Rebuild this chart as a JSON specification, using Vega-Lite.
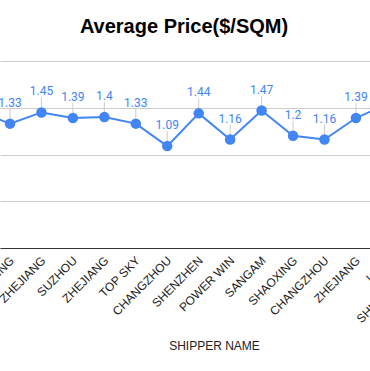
{
  "$schema": "https://vega.github.io/schema/vega-lite/v6.json",
  "width": 370,
  "height": 187,
  "autosize": {"type": "none"},
  "padding": {"top": 61, "bottom": 123, "left": 0, "right": 0},
  "background": "white",
  "config": {"view": {"stroke": null}},
  "title": {
    "text": "Average Price($/SQM)",
    "font": "Liberation Sans",
    "fontSize": 20,
    "fontWeight": "bold",
    "color": "#000000",
    "anchor": "middle",
    "frame": "group",
    "baseline": "alphabetic",
    "offset": 8,
    "dx": -1
  },
  "data": {
    "values": [
      {"i": 0, "name": "WUXI", "price": 1.46},
      {"i": 1, "name": "NANJING", "price": 1.33},
      {"i": 2, "name": "ZHEJIANG", "price": 1.45},
      {"i": 3, "name": "SUZHOU", "price": 1.39},
      {"i": 4, "name": "ZHEJIANG", "price": 1.4},
      {"i": 5, "name": "TOP SKY", "price": 1.33},
      {"i": 6, "name": "CHANGZHOU", "price": 1.09},
      {"i": 7, "name": "SHENZHEN", "price": 1.44},
      {"i": 8, "name": "POWER WIN", "price": 1.16},
      {"i": 9, "name": "SANGAM", "price": 1.47},
      {"i": 10, "name": "SHAOXING", "price": 1.2},
      {"i": 11, "name": "CHANGZHOU", "price": 1.16},
      {"i": 12, "name": "ZHEJIANG", "price": 1.39},
      {"i": 13, "name": "LINYI", "price": 1.54},
      {"i": 14, "name": "SHIJIAZHUANG", "price": 1.35}
    ]
  },
  "encoding": {
    "x": {
      "field": "i",
      "type": "quantitative",
      "scale": {"domain": [0.682, 12.447], "nice": false, "zero": false},
      "axis": {
        "labels": false,
        "ticks": false,
        "grid": false,
        "domainColor": "#333333",
        "domainWidth": 1,
        "title": "SHIPPER NAME",
        "titleFont": "Liberation Sans",
        "titleFontSize": 12,
        "titleFontWeight": "normal",
        "titleColor": "#222222",
        "titleX": 214,
        "titleY": 101,
        "titleBaseline": "alphabetic",
        "titleAnchor": "middle"
      }
    }
  },
  "layer": [
    {
      "mark": {"type": "line", "color": "#4285F4", "strokeWidth": 2, "clip": true},
      "encoding": {
        "y": {
          "field": "price",
          "type": "quantitative",
          "scale": {"domain": [0, 2], "nice": false},
          "axis": {
            "values": [0, 0.5, 1, 1.5, 2],
            "labels": false,
            "ticks": false,
            "domain": false,
            "title": null,
            "grid": true,
            "gridColor": "#cccccc",
            "gridWidth": 1
          }
        }
      }
    },
    {
      "mark": {"type": "rule", "color": "#cccccc", "strokeWidth": 1, "yOffset": -15, "y2Offset": -5, "clip": true},
      "encoding": {
        "y": {"field": "price", "type": "quantitative"},
        "y2": {"field": "price"}
      }
    },
    {
      "mark": {"type": "point", "filled": true, "opacity": 1, "size": 110, "color": "#4285F4", "clip": true},
      "encoding": {
        "y": {"field": "price", "type": "quantitative"}
      }
    },
    {
      "mark": {"type": "text", "font": "Roboto", "fontSize": 12, "color": "#4285F4", "baseline": "alphabetic", "align": "center", "dy": -17, "clip": true},
      "encoding": {
        "y": {"field": "price", "type": "quantitative"},
        "text": {"field": "price", "type": "nominal"}
      }
    },
    {
      "mark": {"type": "text", "font": "Liberation Sans", "fontSize": 12, "color": "#222222", "angle": 315, "align": "right", "baseline": "middle", "dx": -6, "dy": 9},
      "encoding": {
        "y": {"datum": 0, "type": "quantitative"},
        "text": {"field": "name", "type": "nominal"}
      }
    }
  ]
}
